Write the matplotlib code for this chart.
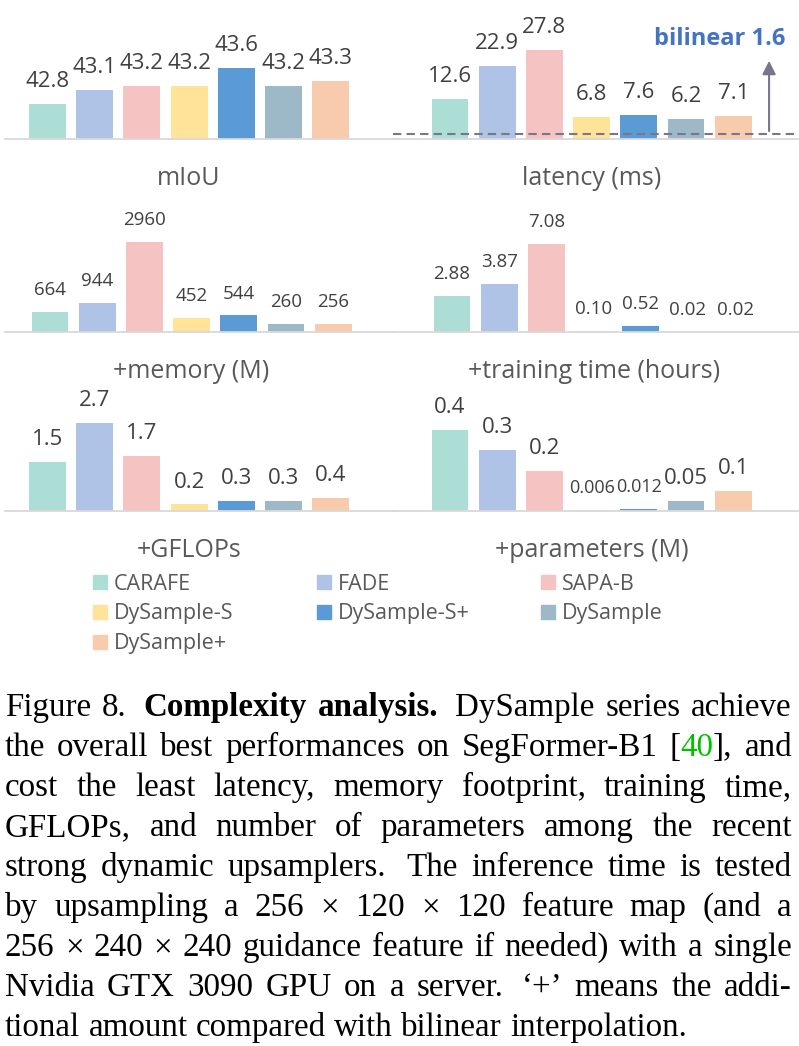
import re
import numpy as np
import matplotlib
matplotlib.use('Agg')
import matplotlib.pyplot as plt
from matplotlib.patches import Rectangle
from matplotlib.transforms import Affine2D

methods = ['CARAFE', 'FADE', 'SAPA-B', 'DySample-S', 'DySample-S+', 'DySample', 'DySample+']
colors = ['#ADDED6', '#AEC3E6', '#F6C3C3', '#FFE399', '#5B9BD5', '#9DB9C7', '#F8CBAD']

miou = [42.8, 43.1, 43.2, 43.2, 43.6, 43.2, 43.3]
latency = [12.6, 22.9, 27.8, 6.8, 7.6, 6.2, 7.1]
memory = [664, 944, 2960, 452, 544, 260, 256]
train_time = [2.88, 3.87, 7.08, 0.10, 0.52, 0.02, 0.02]
gflops = [1.5, 2.7, 1.7, 0.2, 0.3, 0.3, 0.4]
params = [0.4, 0.3, 0.2, 0.006, 0.012, 0.05, 0.1]
bilinear_latency = 1.6

caption = [
    "Figure 8. *Complexity *analysis. DySample series achieve",
    "the overall best performances on SegFormer-B1 [{40}], and",
    "cost the least latency, memory footprint, training time,",
    "GFLOPs, and number of parameters among the recent",
    "strong dynamic upsamplers. The inference time is tested",
    "by upsampling a 256 \u00d7 120 \u00d7 120 feature map (and a",
    "256 \u00d7 240 \u00d7 240 guidance feature if needed) with a single",
    "Nvidia GTX 3090 GPU on a server. \u2018+\u2019 means the addi-",
    "tional amount compared with bilinear interpolation.",
]

W, H = 799, 1046
plt.rcParams['font.family'] = ['Open Sans', 'DejaVu Sans']
fig = plt.figure(figsize=(W / 100, H / 100), dpi=100)
# pixel coordinates, y going down
pix = Affine2D().scale(1 / W, -1 / H).translate(0, 1) + fig.transFigure

value_grey = '#404040'
label_grey = '#595959'
step = 47.2


def add_panel(values, labels, left, right, baseline, first_center, px_per_unit, y0, title, sizes):
    h = 115
    ax = fig.add_axes([left / W, 1 - baseline / H, (right - left) / W, h / H])
    ax.set_xlim(-(first_center - left) / step, (right - first_center) / step)
    ax.set_ylim(y0, y0 + h / px_per_unit)
    x = np.arange(len(values))
    ax.bar(x, values, width=0.78, color=colors)
    for i in range(len(values)):
        ax.annotate(labels[i], (x[i], values[i]), xytext=(0, 12.2), textcoords='offset points',
                    ha='center', va='baseline', fontsize=sizes[i], color=value_grey)
    ax.annotate(title, ((len(values) - 1) / 2, y0), xytext=(0, -33), textcoords='offset points',
                ha='center', va='baseline', fontsize=18, color=label_grey)
    for s in ['top', 'left', 'right']:
        ax.spines[s].set_visible(False)
    ax.spines['bottom'].set_color('#d9d9d9')
    ax.spines['bottom'].set_linewidth(1.3)
    ax.set_xticks([])
    ax.set_yticks([])
    ax.patch.set_alpha(0)
    return ax


add_panel(miou, ['%.1f' % v for v in miou], 5, 397, 139, 47.5, 45, 42.02, 'mIoU', [16] * 7)
ax_lat = add_panel(latency, ['%.1f' % v for v in latency], 393, 799, 139, 450, 3.2, 0,
                   'latency (ms)', [16] * 7)
add_panel(memory, ['%d' % v for v in memory], 5, 397, 332, 50, 0.0304, 0, '+memory (M)', [13.5] * 7)
add_panel(train_time, ['%.2f' % v for v in train_time], 393, 799, 332, 452, 12.43, 0,
          '+training time (hours)', [13.5] * 7)
add_panel(gflops, ['%.1f' % v for v in gflops], 5, 397, 511, 47.5, 32.6, 0, '+GFLOPs', [16] * 7)
param_labels = ['%g' % v for v in params]
add_panel(params, param_labels, 393, 799, 511, 450, 202.5, 0, '+parameters (M)',
          [13 if len(s) > 4 else 16 for s in param_labels])

# bilinear reference on latency
ax_lat.axhline(bilinear_latency, color='#777788', lw=1.5, ls=(0, (4, 2.5)))
ax_lat.annotate('', xy=(6.76, 25.3), xytext=(6.76, bilinear_latency),
                arrowprops=dict(arrowstyle='-|>', color='#777788', lw=1.5, mutation_scale=20))
fig.text(785, 45, 'bilinear %.1f' % bilinear_latency, transform=pix, ha='right', va='baseline',
         fontsize=17, fontweight='bold', color='#4472C4')

# legend, row by row
for i, (name, c) in enumerate(zip(methods, colors)):
    row, col = divmod(i, 3)
    x = 93 + 224 * col
    y = 582 + 30 * row
    fig.add_artist(Rectangle((x, y - 7), 14, 14, transform=pix, color=c))
    fig.text(x + 21, y + 7.5, name, transform=pix, va='baseline', fontsize=15.5, color=label_grey)

# caption, justified like the paper
renderer = fig.canvas.get_renderer()
serif = 'Liberation Serif'
probe = fig.text(0, 0, caption[-1].replace('*', ''), fontfamily=serif, fontsize=23)
cap_size = 23 * 682 / probe.get_window_extent(renderer).width
probe.remove()
probe = fig.text(0, 0, 'a a', fontfamily=serif, fontsize=cap_size)
w_sp = probe.get_window_extent(renderer).width
probe.set_text('aa')
w_sp -= probe.get_window_extent(renderer).width
probe.remove()

x_left, x_right = 5, 792
for li, line in enumerate(caption):
    y = 716 + 40 * li
    words = []
    for tok in line.split(' '):
        weight = 'normal'
        if tok.startswith('*'):
            weight = 'bold'
            tok = tok[1:]
        runs = []
        for part in re.split(r'(\{[^}]*\})', tok):
            if not part:
                continue
            color = 'black'
            if part.startswith('{'):
                part = part[1:-1]
                color = '#00C000'
            t = fig.text(0, y, part, transform=pix, va='baseline', fontfamily=serif,
                         fontsize=cap_size, fontweight=weight, color=color)
            runs.append((t, t.get_window_extent(renderer).width))
        words.append((tok, runs))
    widths = [sum(w for _, w in runs) for _, runs in words]
    stretch = [1.5 if tok.endswith('.') else 1.0 for tok, _ in words[:-1]]
    if li < len(caption) - 1:
        unit = (x_right - x_left - sum(widths)) / sum(stretch)
    else:
        unit = w_sp
    x = x_left
    for wi, (tok, runs) in enumerate(words):
        for t, w in runs:
            t.set_x(x)
            x += w
        if wi < len(stretch):
            x += unit * stretch[wi]

fig.savefig('out.png', dpi=100)
